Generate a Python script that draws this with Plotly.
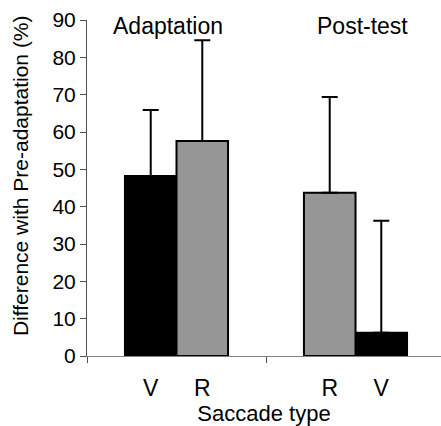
import plotly.graph_objects as go

# Saccade adaptation results, % difference from pre-adaptation
groups = ["Adaptation", "Post-test"]
saccade_order = [["V", "R"], ["R", "V"]]          # bar order inside each group
means = [[48.2, 57.6], [43.7, 6.2]]               # mean difference (%)
errors = [[17.7, 27.0], [25.7, 30.0]]             # upper error (SD)
y_ticks = [0, 10, 20, 30, 40, 50, 60, 70, 80, 90]

colors = {"V": "black", "R": "#969696"}
bar_w = 0.288

fig = go.Figure()
for saccade in ["V", "R"]:
    xs, ys, es = [], [], []
    for gi, order in enumerate(saccade_order):
        j = order.index(saccade)
        xs.append(gi + 0.5 + (j - 0.5) * bar_w)
        ys.append(means[gi][j])
        es.append(errors[gi][j])
    fig.add_trace(go.Bar(
        x=xs, y=ys, width=bar_w, name=saccade,
        marker=dict(color=colors[saccade], line=dict(color="black", width=2)),
        error_y=dict(type="data", array=es, arrayminus=[0] * len(es), symmetric=False,
                     color="black", thickness=2, width=8),
        showlegend=False,
    ))

# one tick label under each bar
centers, center_text = [], []
for gi, order in enumerate(saccade_order):
    for j, s in enumerate(order):
        centers.append(gi + 0.5 + (j - 0.5) * bar_w)
        center_text.append(s)

font = "Liberation Sans, Arial, Helvetica, sans-serif"

fig.update_layout(
    width=441, height=426,
    margin=dict(l=87, r=0, t=20, b=70),
    paper_bgcolor="white", plot_bgcolor="white",
    barmode="overlay",
    font=dict(family=font, size=21, color="black"),
    xaxis=dict(
        range=[0, (441 - 87) / 179], showgrid=False, zeroline=False,
        showline=True, linecolor="#808080", linewidth=1,
        tickmode="array", tickvals=centers, ticktext=center_text, ticks="",
        tickfont=dict(size=23), ticklabelstandoff=11,
        minor=dict(tickmode="array", tickvals=[0, 1, 2], ticks="outside",
                   ticklen=6, tickcolor="#505050", showgrid=False),
        title=dict(text="Saccade type", font=dict(size=22), standoff=5),
    ),
    yaxis=dict(
        range=[0, 90], showgrid=False, zeroline=False,
        showline=True, linecolor="#505050", linewidth=1,
        tickmode="array", tickvals=y_ticks, ticks="outside", ticklen=6,
        tickcolor="#505050", tickfont=dict(size=21),
    ),
)

# group headings above the bars
for gi, g in enumerate(groups):
    fig.add_annotation(x=[0.4525, 1.539][gi], y=88.4, xref="x", yref="y",
                       text=g, showarrow=False, font=dict(size=23),
                       xanchor="center", yanchor="middle")

fig.add_annotation(x=-0.186, y=0.536, xref="paper", yref="paper",
                   text="Difference with Pre-adaptation (%)", textangle=-90,
                   showarrow=False, font=dict(size=21),
                   xanchor="center", yanchor="middle")

fig.write_html("out.html")
